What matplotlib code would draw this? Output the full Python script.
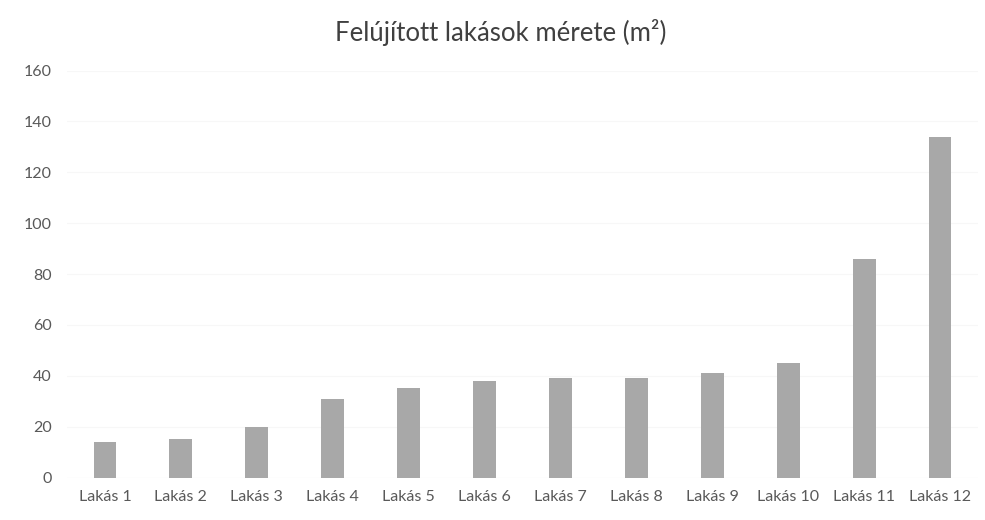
import matplotlib
matplotlib.use("Agg")
import matplotlib.pyplot as plt

categories = ["Lakás 1", "Lakás 2", "Lakás 3", "Lakás 4", "Lakás 5", "Lakás 6",
              "Lakás 7", "Lakás 8", "Lakás 9", "Lakás 10", "Lakás 11", "Lakás 12"]
values = [14, 15, 20, 31, 35, 38, 39, 39, 41, 45, 86, 134]
yticks = [0, 20, 40, 60, 80, 100, 120, 140, 160]
title = "Felújított lakások mérete (m²)"

plt.rcParams['font.family'] = ['Lato', 'DejaVu Sans']

fig = plt.figure(figsize=(9.85, 5.20), dpi=100)
ax = fig.add_axes([67/985, 1 - 477.5/520, (978-67)/985, (477.5-70.5)/520])

x = list(range(len(categories)))
ax.bar(x, values, width=0.30, color="#a8a8a8", zorder=3)
ax.set_xlim(-0.5, len(categories) - 0.5)
ax.set_ylim(0, 160)
ax.set_yticks(yticks)
ax.set_yticklabels([str(t) for t in yticks])
ax.set_xticks(x)
ax.set_xticklabels(categories)
ax.tick_params(axis='both', length=0, labelsize=11.5, colors="#595959")
ax.tick_params(axis='y', pad=11)
ax.tick_params(axis='x', pad=9)
ax.grid(axis='y', color="#f7f7f7", linewidth=0.8, zorder=0)
for s in ax.spines.values():
    s.set_visible(False)
ax.axhline(0, color="#f0f0f0", linewidth=0.8, zorder=1)

fig.text(501/985, 1 - 33/520, title, ha='center', va='center',
         fontsize=18.5, color="#404040")

fig.savefig("out.png", dpi=100)
